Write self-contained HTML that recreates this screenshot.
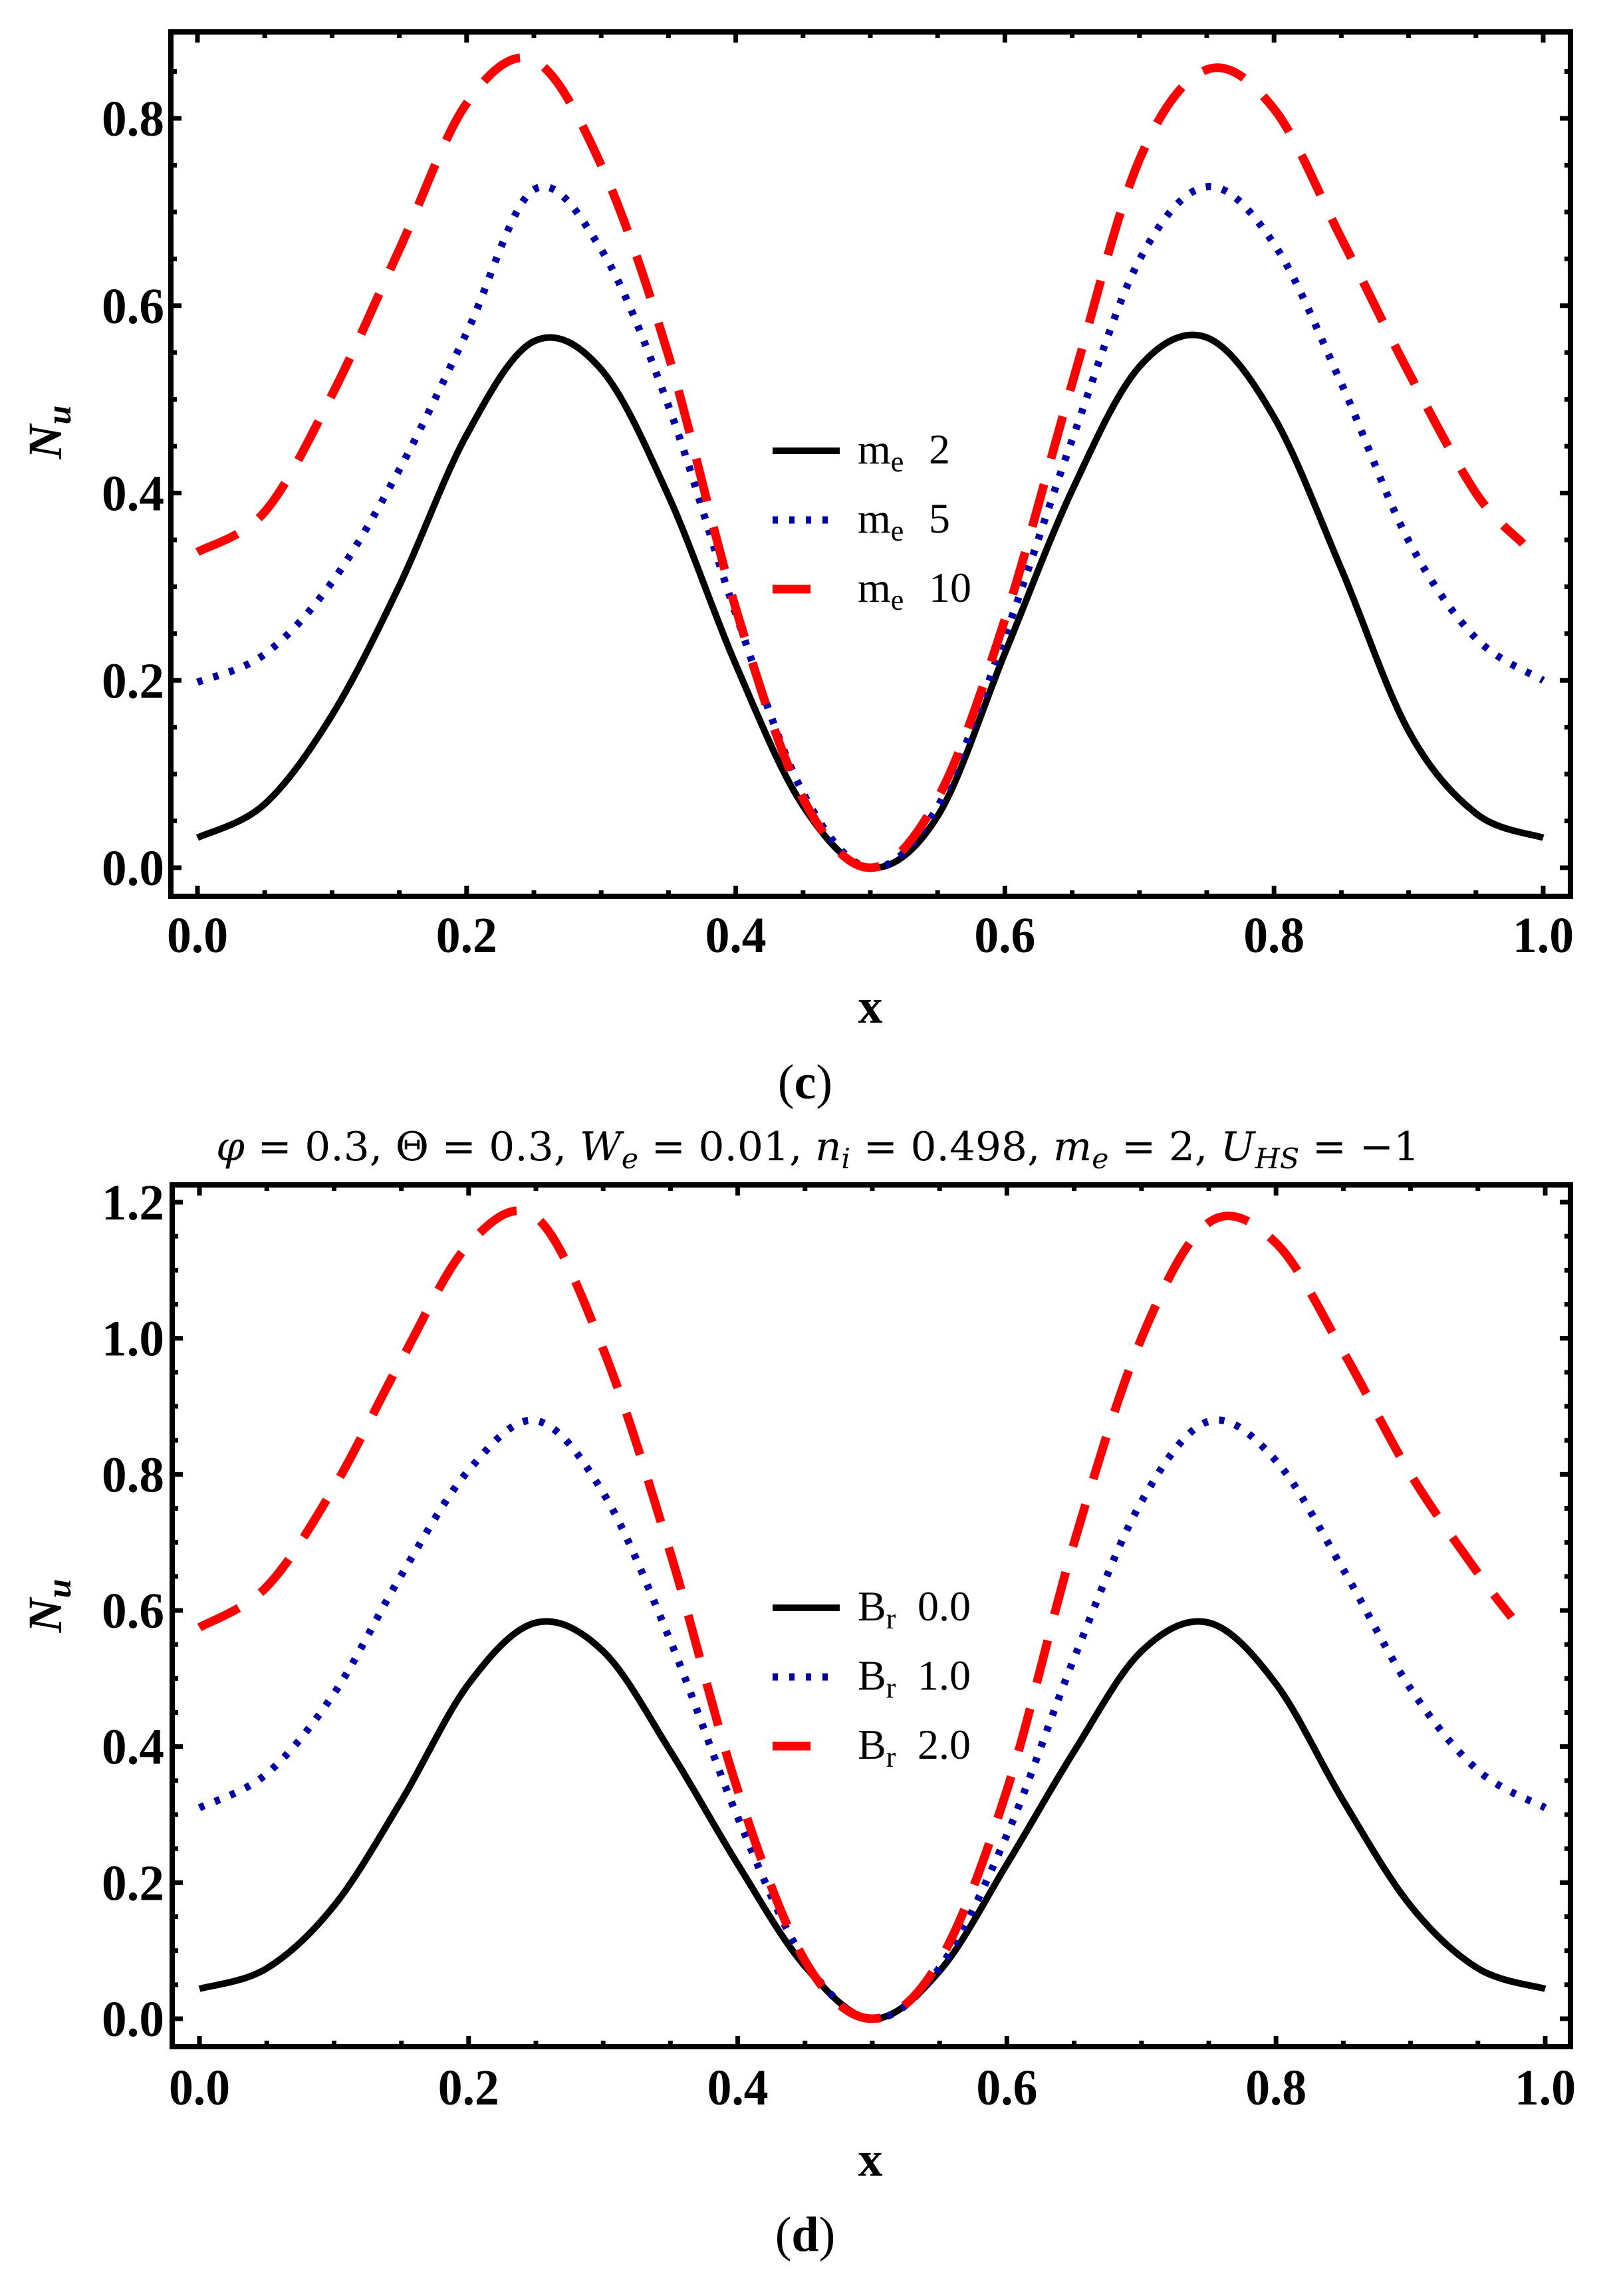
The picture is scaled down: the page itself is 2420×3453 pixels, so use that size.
<!DOCTYPE html>
<html><head><meta charset="utf-8"><style>
html,body{margin:0;padding:0;background:#fff;}
svg{display:block;font-family:"Liberation Serif",serif;}
text{font-family:"Liberation Serif",serif;}
</style></head><body>
<svg id="fig" width="2420" height="3453" viewBox="0 0 2420 3453" xmlns="http://www.w3.org/2000/svg">
<rect width="2420" height="3453" fill="#fff"/>
<g id="chartC"></g>
<g id="chartD"></g>
<text x="1211" y="1652" font-size="74" text-anchor="middle" font-family="Liberation Serif, serif">(<tspan font-weight="bold">c</tspan>)</text>
<text x="1230" y="1745" font-size="60" text-anchor="middle" style="font-family:'DejaVu Serif',serif" textLength="1810" lengthAdjust="spacingAndGlyphs"><tspan font-style="italic">φ</tspan> = 0.3, Θ = 0.3, <tspan font-style="italic">W</tspan><tspan font-style="italic" font-size="42" dy="12">e</tspan><tspan dy="-12"> = 0.01, </tspan><tspan font-style="italic">n</tspan><tspan font-style="italic" font-size="42" dy="12">i</tspan><tspan dy="-12"> = 0.498, </tspan><tspan font-style="italic">m</tspan><tspan font-style="italic" font-size="42" dy="12">e</tspan><tspan dy="-12"> = 2, </tspan><tspan font-style="italic">U</tspan><tspan font-style="italic" font-size="42" dy="12">HS</tspan><tspan dy="-12"> = −1</tspan></text>
<text x="1211" y="3385" font-size="74" text-anchor="middle" font-family="Liberation Serif, serif">(<tspan font-weight="bold">d</tspan>)</text>
</svg>
<script>
// ---- Panel (c) data ----
const xBlackC = [0,0.05,0.1,0.15,0.2,0.25,0.3,0.35,0.4,0.45,0.5,0.55,0.6,0.65,0.7,0.75,0.8,0.85,0.9,0.95,1.0];
const blackC = [0.032,0.068,0.163,0.301,0.462,0.562,0.532,0.397,0.217,0.066,0.0,0.055,0.229,0.403,0.535,0.566,0.481,0.319,0.146,0.058,0.032];
const xBlueC = [0,0.05,0.1,0.15,0.2,0.25,0.3,0.35,0.4,0.45,0.5,0.55,0.6,0.65,0.7,0.75,0.8,0.85,0.9,0.95,1.0];
const blueC = [0.198,0.228,0.305,0.425,0.571,0.724,0.66,0.493,0.271,0.08,0.0,0.065,0.247,0.457,0.649,0.727,0.666,0.517,0.349,0.245,0.2];
const xRedC = [0,0.05,0.1,0.15,0.2,0.25,0.3,0.35,0.4,0.45,0.5,0.55,0.6,0.65,0.7,0.75,0.8,0.85,0.9,0.95,0.985];
const redC = [0.337,0.38,0.505,0.66,0.816,0.862,0.75,0.547,0.277,0.074,0.0,0.074,0.265,0.517,0.756,0.852,0.81,0.672,0.529,0.400,0.346];
const yTicksC = ["0.0","0.2","0.4","0.6","0.8"];
const legendC = ["2","5","10"];
// ---- Panel (d) data ----
const xBlackD = [0,0.05,0.1,0.15,0.2,0.25,0.3,0.35,0.4,0.45,0.5,0.55,0.6,0.65,0.7,0.75,0.8,0.85,0.9,0.95,1.0];
const blackD = [0.044,0.074,0.166,0.32,0.492,0.582,0.54,0.393,0.227,0.077,0.0,0.07,0.227,0.393,0.54,0.582,0.492,0.32,0.166,0.074,0.044];
const xBlueD = [0,0.05,0.1,0.15,0.2,0.25,0.3,0.35,0.4,0.45,0.5,0.55,0.6,0.65,0.7,0.75,0.8,0.85,0.9,0.95,1.0];
const blueD = [0.31,0.36,0.478,0.652,0.806,0.879,0.773,0.555,0.296,0.085,0.0,0.075,0.27,0.53,0.76,0.878,0.82,0.66,0.485,0.365,0.31];
const xRedD = [0,0.05,0.1,0.15,0.2,0.25,0.3,0.35,0.4,0.45,0.5,0.55,0.6,0.65,0.7,0.75,0.8,0.85,0.9,0.95,0.975];
const redD = [0.575,0.635,0.781,0.968,1.138,1.178,0.984,0.684,0.336,0.085,0.0,0.085,0.336,0.70,1.0,1.17,1.14,0.98,0.80,0.655,0.59];
const yTicksD = ["0.0","0.2","0.4","0.6","0.8","1.0","1.2"];
const legendD = ["0.0","1.0","2.0"];
const xTicks = ["0.0","0.2","0.4","0.6","0.8","1.0"];

const NS="http://www.w3.org/2000/svg";
function mk(parent,tag,attrs){const e=document.createElementNS(NS,tag);for(const k in attrs)e.setAttribute(k,attrs[k]);parent.appendChild(e);return e;}

function smoothPath(pts){
  let d="M"+pts[0][0].toFixed(1)+","+pts[0][1].toFixed(1);
  for(let i=0;i<pts.length-1;i++){
    const p0=pts[Math.max(0,i-1)],p1=pts[i],p2=pts[i+1],p3=pts[Math.min(pts.length-1,i+2)];
    const c1x=p1[0]+(p2[0]-p0[0])/6,c1y=p1[1]+(p2[1]-p0[1])/6;
    const c2x=p2[0]-(p3[0]-p1[0])/6,c2y=p2[1]-(p3[1]-p1[1])/6;
    d+=" C"+c1x.toFixed(1)+","+c1y.toFixed(1)+" "+c2x.toFixed(1)+","+c2y.toFixed(1)+" "+p2[0].toFixed(1)+","+p2[1].toFixed(1);
  }
  return d;
}

function drawPanel(g,cfg){
  const sx=v=>cfg.x0+(cfg.x1-cfg.x0)*v;
  const sy=v=>cfg.y0-(cfg.y0-cfg.yTop)*(v/cfg.yTopVal);
  const L=cfg.left,R=cfg.right,T=cfg.top,B=cfg.bottom;
  const tg=mk(g,'g',{});
  
  
  for(let i=0;i<=20;i++){
    const v=i*0.05,x=sx(v),len=(i%4===0)?16:9;
    mk(tg,'line',{x1:x,y1:B,x2:x,y2:B-len,stroke:'#000','stroke-width':7});
    mk(tg,'line',{x1:x,y1:T,x2:x,y2:T+len,stroke:'#000','stroke-width':7});
  }
  for(let i=-1;i<=Math.round(cfg.yMax/0.05);i++){
    const v=i*0.05,y=sy(v); if(y>B-4||y<T+4)continue;
    const len=(((i%4)+4)%4===0)?16:9;
    mk(tg,'line',{x1:L,y1:y,x2:L+len,y2:y,stroke:'#000','stroke-width':7});
    mk(tg,'line',{x1:R,y1:y,x2:R-len,y2:y,stroke:'#000','stroke-width':7});
  }
  xTicks.forEach((t,i)=>{
    const el=mk(g,'text',{x:sx(i*0.2),y:cfg.xLabY,'font-size':76,'font-weight':'bold','text-anchor':'middle',textLength:92,lengthAdjust:'spacingAndGlyphs'});
    
    
    el.textContent=t;
  });
  cfg.yTicks.forEach((t,i)=>{
    const el=mk(g,'text',{x:247,y:sy(i*0.2)+26,'font-size':76,'font-weight':'bold','text-anchor':'end',textLength:94,lengthAdjust:'spacingAndGlyphs'});
    
    
    el.textContent=t;
  });
  const xt=mk(g,'text',{x:1309,y:cfg.xTitleY,'font-size':74,'font-weight':'bold','text-anchor':'middle'});
  
  
  xt.textContent='x';
  const yt=mk(g,'text',{x:0,y:0,'font-size':72,'font-style':'italic','font-weight':'bold','text-anchor':'middle',transform:'translate(92,'+cfg.yTitleY+') rotate(-90)'});
  
  
  yt.innerHTML='N<tspan font-size="52" dy="14">u</tspan>';
  const cid='clip'+cfg.id;
  const cp=mk(g,'clipPath',{id:cid});
  mk(cp,'rect',{x:L,y:T,width:R-L,height:B-T});
  const styles=[
    {stroke:'#000','stroke-width':10,fill:'none'},
    {stroke:'#0000a8','stroke-width':11,fill:'none','stroke-dasharray':'8 17'},
    {stroke:'#ff0000','stroke-width':13,fill:'none','stroke-dasharray':'66 40'}
  ];
  const names=['series-1','series-2','series-3'];
  cfg.series.forEach((s,k)=>{
    const pts=s.xs.map((xv,i)=>[sx(xv),sy(s.ys[i])]);
    const p=mk(g,'path',Object.assign({d:smoothPath(pts),'clip-path':'url(#'+cid+')'},styles[k]));
    
    
  });
  const fr=mk(g,'rect',{x:L,y:T,width:R-L,height:B-T,fill:'none',stroke:'#000','stroke-width':8});
  
  
  const lg=mk(g,'g',{});
  
  
  const lstyles=[
    {stroke:'#000','stroke-width':10,x2:1263},
    {stroke:'#0000a8','stroke-width':11,'stroke-dasharray':'8 17',x2:1255},
    {stroke:'#ff0000','stroke-width':13,x2:1219}
  ];
  cfg.legendVals.forEach((v,k)=>{
    const y=cfg.legY+k*cfg.legGap;
    const ent=mk(lg,'g',{});
    
    
    mk(ent,'line',Object.assign({x1:1162,y1:y,y2:y},lstyles[k]));
    const t=mk(ent,'text',{x:1290,y:y+19,'font-size':64});
    t.innerHTML=cfg.legSym+'<tspan font-size="44" dy="12">'+cfg.legSub+'</tspan><tspan dy="-12" x="'+cfg.legValX+'">'+v+'</tspan>';
  });
}

drawPanel(document.getElementById('chartC'),{
  id:'c',left:257,right:2362,top:48,bottom:1348,
  x0:297,x1:2321,y0:1305,yTop:178,yTopVal:0.8,yMax:0.85,
  yTicks:yTicksC,xLabY:1432,xTitleY:1538,yTitleY:650,
  series:[{xs:xBlackC,ys:blackC},{xs:xBlueC,ys:blueC},{xs:xRedC,ys:redC}],
  legendVals:legendC,legY:678,legGap:104,legSym:'m',legSub:'e',legValX:1397
});
drawPanel(document.getElementById('chartD'),{
  id:'d',left:259,right:2362,top:1782,bottom:3078,
  x0:300,x1:2324,y0:3036,yTop:1808,yTopVal:1.2,yMax:1.22,
  yTicks:yTicksD,xLabY:3165,xTitleY:3272,yTitleY:2415,
  series:[{xs:xBlackD,ys:blackD},{xs:xBlueD,ys:blueD},{xs:xRedD,ys:redD}],
  legendVals:legendD,legY:2418,legGap:104,legSym:'B',legSub:'r',legValX:1380
});
</script>
</body></html>
